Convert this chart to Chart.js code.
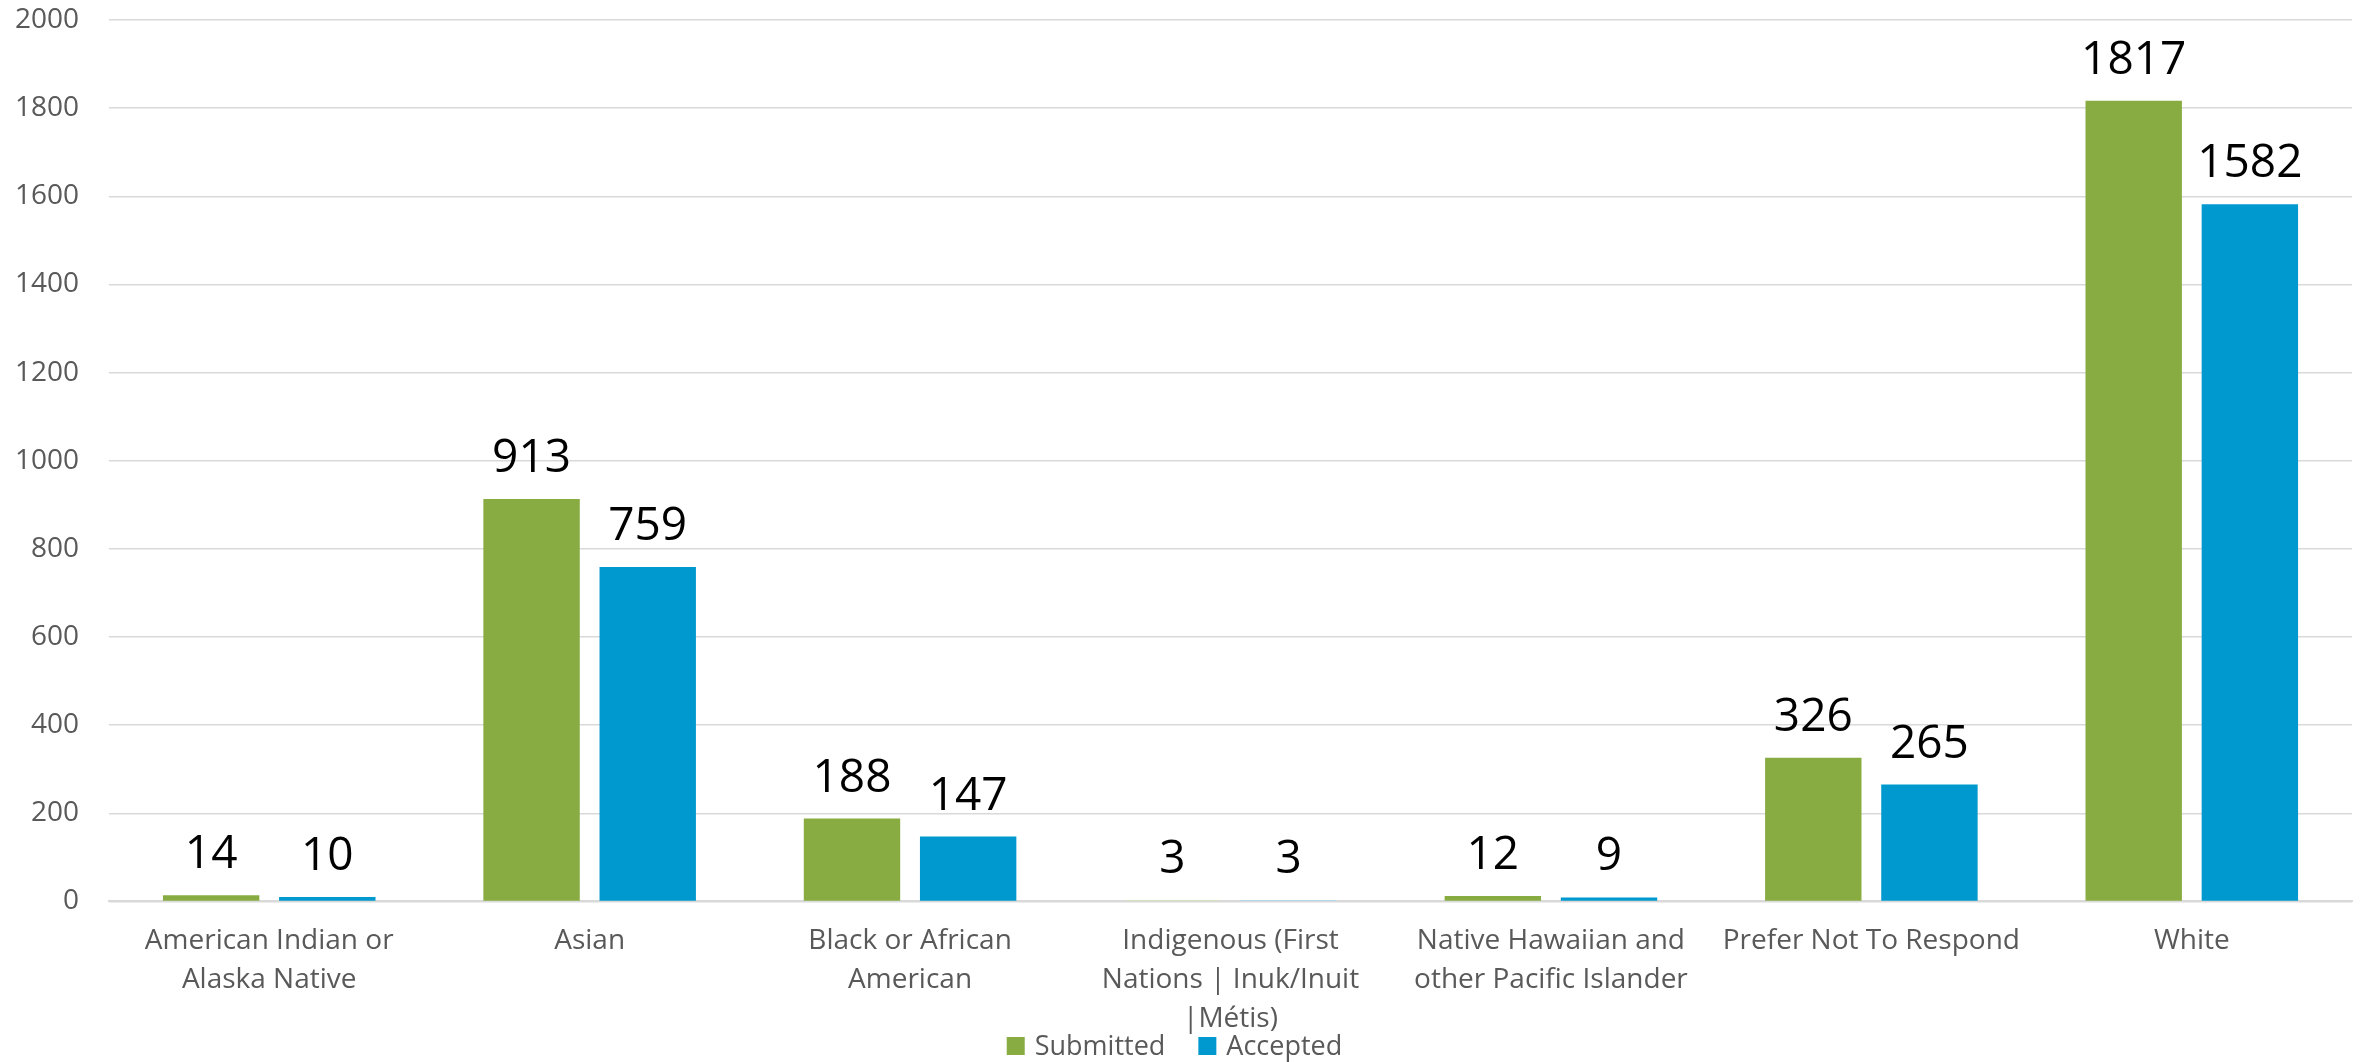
<!DOCTYPE html>
<html>
<head>
<meta charset="utf-8">
<script src="https://cdn.jsdelivr.net/npm/chart.js@4/dist/chart.umd.min.js"></script>
<style>
  html, body { margin: 0; padding: 0; background: #fff; }
  #wrap { width: 2369px; height: 1062px; position: relative; }
</style>
</head>
<body>
<div id="wrap"><canvas id="chart"></canvas></div>
<script>
  // chart data
  var categories = [
    ["American Indian or", "Alaska Native"],
    ["Asian"],
    ["Black or African", "American"],
    ["Indigenous (First", "Nations | Inuk/Inuit", "|Métis)"],
    ["Native Hawaiian and", "other Pacific Islander"],
    ["Prefer Not To Respond"],
    ["White"]
  ];
  var submitted = [14, 913, 188, 3, 12, 326, 1817];
  var accepted = [10, 759, 147, 3, 9, 265, 1582];
  var yTicks = [0, 200, 400, 600, 800, 1000, 1200, 1400, 1600, 1800, 2000];

  var GREEN = "#88AC42";
  var BLUE = "#0099CF";
  var GREEN_FADED = "#D5E3BC";
  var BLUE_FADED = "#A9D9EE";
  // the Indigenous bars are drawn washed out in the original
  var fadedIndex = 3;

  var gray = "#595959";
  var gridColor = "#D9D9D9";
  var font = "'Open Sans'";

  function barColor(solid, faded) {
    return function(ctx) {
      return ctx.dataIndex === fadedIndex ? faded : solid;
    };
  }

  // value labels above every bar
  var valueLabels = {
    id: "valueLabels",
    afterDatasetsDraw: function(chart) {
      var ctx = chart.ctx;
      ctx.save();
      ctx.font = "46px " + font;
      ctx.fillStyle = "#000000";
      ctx.textAlign = "center";
      ctx.textBaseline = "alphabetic";
      chart.data.datasets.forEach(function(ds, di) {
        var meta = chart.getDatasetMeta(di);
        meta.data.forEach(function(bar, i) {
          ctx.fillText(String(ds.data[i]), bar.x, bar.y - 27);
        });
      });
      ctx.restore();
    }
  };

  // legend drawn under the axis labels, sitting close like the original
  var bottomLegend = {
    id: "bottomLegend",
    afterDraw: function(chart) {
      var ctx = chart.ctx;
      var box = 18, gapText = 10, gapItem = 33;
      var cy = chart.height - 16;
      ctx.save();
      ctx.font = "27px " + font;
      ctx.textBaseline = "middle";
      ctx.textAlign = "left";
      var items = chart.data.datasets.map(function(ds, i) {
        return { text: ds.label, color: i === 0 ? GREEN : BLUE, w: ctx.measureText(ds.label).width };
      });
      var total = 0;
      items.forEach(function(it, i) {
        total += box + gapText + it.w + (i ? gapItem : 0);
      });
      var x = chart.width / 2 - 10 - total / 2;
      items.forEach(function(it) {
        ctx.fillStyle = it.color;
        ctx.fillRect(x, cy - box / 2, box, box);
        ctx.fillStyle = gray;
        ctx.fillText(it.text, x + box + gapText, cy + 1);
        x += box + gapText + it.w + gapItem;
      });
      ctx.restore();
    }
  };

  new Chart(document.getElementById("chart"), {
    type: "bar",
    data: {
      labels: categories,
      datasets: [
        {
          label: "Submitted",
          data: submitted,
          backgroundColor: barColor(GREEN, GREEN_FADED),
          categoryPercentage: 0.725,
          barPercentage: 0.83
        },
        {
          label: "Accepted",
          data: accepted,
          backgroundColor: barColor(BLUE, BLUE_FADED),
          categoryPercentage: 0.725,
          barPercentage: 0.83
        }
      ]
    },
    options: {
      responsive: true,
      maintainAspectRatio: false,
      animation: false,
      layout: { padding: { top: 0, right: 17, bottom: 3, left: 0 } },
      plugins: {
        tooltip: { enabled: false },
        legend: { display: false }
      },
      scales: {
        x: {
          grid: { display: false, drawTicks: false },
          border: { color: gridColor, width: 2 },
          ticks: {
            color: gray,
            padding: 20,
            maxRotation: 0,
            autoSkip: false,
            font: { family: font, size: 28, lineHeight: 1.4 }
          }
        },
        y: {
          min: 0,
          max: 2000,
          afterBuildTicks: function(axis) {
            axis.ticks = yTicks.map(function(v) { return { value: v }; });
          },
          grid: { color: gridColor, lineWidth: 1.5, drawTicks: false },
          border: { display: false },
          ticks: {
            color: gray,
            padding: 30,
            font: { family: font, size: 28 },
            callback: function(v) { return String(v); }
          },
          afterFit: function(axis) {
            axis.width = 109;
            // tick padding would otherwise push the plot top down
            axis.paddingTop = 20;
          }
        }
      }
    },
    plugins: [valueLabels, bottomLegend]
  });
</script>
</body>
</html>
